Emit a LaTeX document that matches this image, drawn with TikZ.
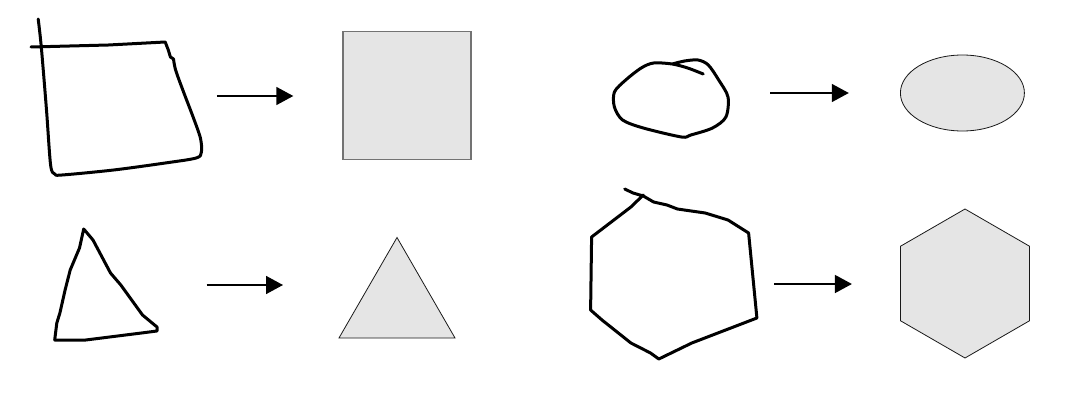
\documentclass[tikz,border=0pt]{standalone}
\usetikzlibrary{shapes.geometric,arrows.meta}
\tikzset{
  sketch/.style={line width=3pt, line join=round, line cap=round},
  neat/.style={draw=black!90, fill=black!10, line width=0.8pt, inner sep=0pt},
  conv/.style={-{Triangle[length=17pt,width=18pt]}, line width=1.6pt}
}
\begin{document}
\begin{tikzpicture}[x=1pt, y=-1pt]
\useasboundingbox (0,0) rectangle (1078,401);
\draw[sketch] plot[smooth] coordinates {(38.2,19) (41.3,47) (46.5,110) (50.6,165) (54.7,174) (62,175) (113.6,170) (165.2,163) (196.2,158) (201.4,152) (200.4,138) (193.1,117) (182.8,90) (175.6,70) (173.5,59)} -- (170.4,57) -- (168.3,50) -- (165.2,42) -- (108.4,45) -- (31,47);
\draw[sketch] plot[smooth] coordinates {(703.2,74) (687.7,68) (672.2,64) (653.6,63) (641.2,68) (625.7,80) (614.4,92) (614.4,107) (622.6,120) (643.3,128) (681.5,137) (690.8,135) (712.5,128) (725.9,117) (728,97) (718.7,80) (708.3,65) (698,60) (684.6,61) (672.2,64)};
\draw[sketch] (83.7,229) -- (93,240) -- (110.5,273) -- (120.8,285) -- (142.5,315) -- (157,327) -- (157,331) -- (141.5,333) -- (85.7,340) -- (54.7,340) -- (56.8,323) -- (59.9,313) -- (65.1,290) -- (70.2,270) -- (79.5,248) -- cycle;
\draw[sketch] (624.7,189) -- (633,193) -- (643.3,196) -- (653.6,202) -- (667,205) -- (677.4,209) -- (705.2,213) -- (728,220) -- (748.6,233) -- (756.9,318) -- (691.8,343) -- (658.8,359) -- (650.5,353) -- (630.9,343) -- (602,320) -- (590.6,310) -- (591.6,237) -- (630.9,207) -- (643.3,195);

\node[neat, draw=black!55, line width=1.3pt, rectangle, minimum width=128pt, minimum height=128pt] (sqr) at (407,95.5) {};
\node[neat, ellipse, minimum width=124pt, minimum height=76pt] (ell) at (962.4,93) {};
\node[neat, regular polygon, regular polygon sides=3, minimum size=134pt] (tri) at (397,304.5) {};
\node[neat, regular polygon, regular polygon sides=6, shape border rotate=30, minimum size=149pt] (hex) at (965,283.5) {};

\coordinate (sqrIn) at (216.9,96);  \coordinate (sqrOut) at (293.3,96);
\coordinate (ellIn) at (770.3,93);  \coordinate (ellOut) at (848.8,93);
\coordinate (triIn) at (206.6,285); \coordinate (triOut) at (283,285);
\coordinate (hexIn) at (774.4,284); \coordinate (hexOut) at (851.9,284);
\draw[conv] (sqrIn) -- (sqrOut);
\draw[conv] (ellIn) -- (ellOut);
\draw[conv] (triIn) -- (triOut);
\draw[conv] (hexIn) -- (hexOut);
\end{tikzpicture}
\end{document}
